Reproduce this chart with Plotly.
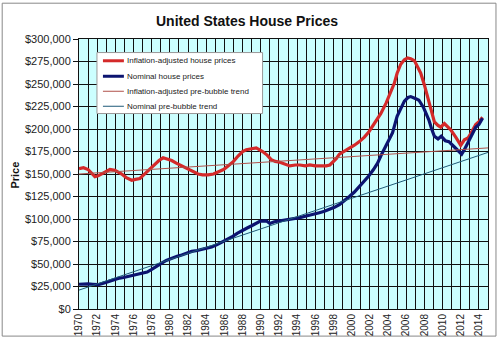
import plotly.graph_objects as go

# Inflation-adjusted house prices (year, USD)
real_years = [1970.0, 1970.5, 1971.0, 1971.4, 1971.75, 1972.1, 1972.5, 1973.0, 1973.4, 1973.95,
              1974.3, 1974.7, 1975.2, 1975.8, 1976.2, 1976.7, 1977.0, 1977.4, 1977.9, 1978.3,
              1978.8, 1979.25, 1979.7, 1980.2, 1980.7, 1981.3, 1981.9, 1982.4, 1983.1, 1983.6,
              1984.2, 1984.8, 1985.3, 1985.9, 1986.4, 1987.0, 1987.5, 1988.0, 1988.4, 1989.0,
              1989.5, 1990.2, 1990.7, 1991.15, 1991.6, 1992.1, 1992.6, 1993.2, 1993.8, 1994.3,
              1994.9, 1995.4, 1996.0, 1996.5, 1997.2, 1997.6, 1997.9, 1998.3, 1998.65, 1999.2,
              1999.75, 2000.3, 2000.85, 2001.4, 2001.9, 2002.3, 2002.7, 2003.2, 2003.8, 2004.2,
              2004.7, 2005.0, 2005.4, 2005.8, 2006.15, 2006.5, 2006.9, 2007.3, 2007.6, 2008.0,
              2008.35, 2008.7, 2009.1, 2009.5, 2009.8, 2010.2, 2010.5, 2010.9, 2011.45, 2012.0,
              2012.4, 2012.8, 2013.1, 2013.65, 2014.0, 2014.4]
real_prices = [156, 157, 155, 150, 147, 148, 150, 153, 155, 154,
               152, 150, 146, 143, 144, 145, 148, 152, 156, 161,
               165, 168, 167, 165, 162, 159, 156, 154, 150, 149,
               149, 150, 152, 155, 159, 164, 170, 175, 177, 178,
               179, 175, 171, 166, 164, 163, 161, 159, 160, 160,
               159, 160, 159, 159, 159, 160, 163, 167, 172, 175,
               179, 182, 186, 191, 197, 203, 209, 217, 229, 238,
               251, 262, 272, 277, 279, 278, 276, 268, 262, 249,
               236, 224, 208, 204, 202, 206, 203, 199, 191, 182,
               188, 190, 195, 205, 208, 213]
real_prices = [v * 1000 for v in real_prices]

# Nominal house prices (year, USD)
nom_years = [1970.0, 1970.5, 1971.0, 1971.5, 1972.1, 1972.6, 1973.2, 1973.8, 1974.3, 1974.9,
             1975.4, 1976.2, 1976.9, 1977.5, 1978.0, 1978.5, 1979.1, 1979.6, 1980.2, 1980.8,
             1981.3, 1981.9, 1982.4, 1983.0, 1983.5, 1984.0, 1984.6, 1985.2, 1985.7, 1986.3,
             1986.8, 1987.4, 1987.9, 1988.5, 1989.0, 1989.5, 1989.9, 1990.6, 1991.0, 1991.5,
             1992.1, 1992.6, 1993.2, 1993.8, 1994.3, 1994.9, 1995.4, 1996.0, 1996.45, 1997.0,
             1997.6, 1998.1, 1998.65, 1999.2, 1999.75, 2000.3, 2000.85, 2001.4, 2001.9, 2002.4,
             2002.85, 2003.3, 2003.8, 2004.15, 2004.5, 2005.0, 2005.4, 2005.8, 2006.2, 2006.5,
             2007.0, 2007.4, 2007.9, 2008.15, 2008.5, 2008.8, 2009.1, 2009.5, 2009.85, 2010.3,
             2010.7, 2011.3, 2011.85, 2012.1, 2012.4, 2012.9, 2013.3, 2013.65, 2014.0, 2014.4]
nom_prices = [27.5, 28, 28, 27.5, 27, 28.5, 30.5, 32.5, 34, 35,
              36, 37.5, 39, 41, 44, 47.5, 51, 54, 56.5, 58.5,
              60, 62, 64, 65, 66, 67.5, 69, 71.5, 74, 77,
              80, 84, 87, 90, 92.5, 95.5, 97.5, 98, 95, 97,
              98, 98, 99, 100, 101.5, 103, 104, 105.5, 107, 108.5,
              110.5, 113, 116, 120, 125, 130, 136, 142, 148, 155,
              162, 172, 182, 190, 196, 214, 223, 231, 235, 236,
              234, 232, 224, 218, 210, 200, 192, 189, 192, 187,
              186, 180, 174, 172, 177, 187, 196, 202, 205, 212]
nom_prices = [v * 1000 for v in nom_prices]

# Pre-bubble trend lines (endpoints)
trend_years = [1970, 2015]
real_trend = [150000, 179000]
nom_trend = [21000, 174000]

tick_years = list(range(1970, 2015, 2))

series_names = ["Inflation-adjusted house prices", "Nominal house prices",
                "Inflation-adjusted pre-bubble trend", "Nominal pre-bubble trend"]

RED = "#d42a2a"
NAVY = "#0c1470"
RED_T = "#b0504a"
NAVY_T = "#1e5a78"
colors = [RED, NAVY, RED_T, NAVY_T]
widths = [3, 3, 1, 1]

fig = go.Figure()
fig.add_trace(go.Scatter(x=real_years, y=real_prices, mode="lines", name=series_names[0],
                         line=dict(color=RED, width=3.2), showlegend=False))
fig.add_trace(go.Scatter(x=nom_years, y=nom_prices, mode="lines", name=series_names[1],
                         line=dict(color=NAVY, width=3.2), showlegend=False))
fig.add_trace(go.Scatter(x=trend_years, y=real_trend, mode="lines", name=series_names[2],
                         line=dict(color=RED_T, width=1), showlegend=False))
fig.add_trace(go.Scatter(x=trend_years, y=nom_trend, mode="lines", name=series_names[3],
                         line=dict(color=NAVY_T, width=1), showlegend=False))

FONT = "Liberation Sans, Arial, sans-serif"
L, R, T, B = 79, 11, 39, 29
W, H = 500, 347
pw, ph = W - L - R, H - T - B


def px(x):
    return (x - L) / pw


def py(y):
    return (H - B - y) / ph


shapes = [
    dict(type="rect", xref="paper", yref="paper",
         x0=px(2), x1=px(497), y0=py(346), y1=py(2),
         line=dict(color="#888", width=1), fillcolor="rgba(0,0,0,0)", layer="below"),
    dict(type="rect", xref="paper", yref="paper",
         x0=px(97), x1=px(263), y0=py(116), y1=py(53),
         line=dict(color="#999", width=1), fillcolor="white", layer="above"),
]
annotations = [
    dict(text="<b>United States House Prices</b>", xref="paper", yref="paper",
         x=px(247.5), y=py(20), xanchor="center", yanchor="middle",
         showarrow=False, font=dict(size=14, family=FONT, color="#111")),
    dict(text="<b>Price</b>", xref="paper", yref="paper", textangle=-90,
         x=px(15), y=py(180), xanchor="center", yanchor="middle",
         showarrow=False, font=dict(size=11, family=FONT, color="#111")),
]
entry_y = [61.5, 77.5, 93, 108.5]
for name, c, w, ey in zip(series_names, colors, widths, entry_y):
    shapes.append(dict(type="line", xref="paper", yref="paper",
                       x0=px(103), x1=px(124), y0=py(ey), y1=py(ey),
                       line=dict(color=c, width=w), layer="above"))
    annotations.append(dict(text=name, xref="paper", yref="paper",
                            x=px(125), y=py(ey), xanchor="left", yanchor="middle",
                            showarrow=False,
                            font=dict(size=8, family=FONT, color="#222")))

fig.update_layout(
    width=W, height=H,
    margin=dict(l=L, r=R, t=T, b=B),
    paper_bgcolor="white",
    plot_bgcolor="#ccffff",
    font=dict(family=FONT, color="#222", size=11),
    showlegend=False,
    xaxis=dict(range=[1970, 2015], tickmode="array", tickvals=tick_years,
               ticktext=[str(y) for y in tick_years], tickangle=-90,
               tickfont=dict(size=10), showgrid=True, gridcolor="#111", gridwidth=1,
               minor=dict(dtick=1, tick0=1970, showgrid=True, gridcolor="#111", gridwidth=1),
               showline=True, linecolor="#111", linewidth=1, mirror=True,
               ticks="", zeroline=False),
    yaxis=dict(range=[0, 300000], dtick=25000, tickprefix="$", tickformat=",.0f",
               tickfont=dict(size=11), showgrid=True, gridcolor="#111", gridwidth=1,
               showline=True, linecolor="#111", linewidth=1, mirror=True,
               ticks="outside", ticklen=5, tickcolor="#111", zeroline=False),
    annotations=annotations,
    shapes=shapes,
)

fig.write_html("out.html")
